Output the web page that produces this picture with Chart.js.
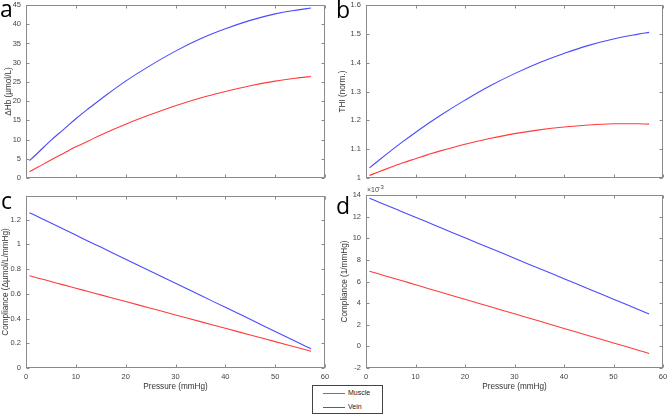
<!DOCTYPE html>
<html>
<head>
<meta charset="utf-8">
<script src="https://cdn.jsdelivr.net/npm/chart.js@4.4.0/dist/chart.umd.min.js"></script>
<style>
  body { margin: 0; background: #fff; }
  #wrap { position: relative; width: 669px; height: 415px; }
  #wrap canvas { position: absolute; left: 0; top: 0; }
  #legend { position: absolute; left: 312px; top: 385px; width: 69px; height: 27px;
            border: 1px solid #444; background: #fff; font: 7px "Liberation Sans", Arial, sans-serif; color: #222; }
  #legend .row { position: absolute; left: 10px; height: 8px; }
  #legend .sw { position: absolute; left: 0; top: 4px; width: 22px; height: 1px; }
  #legend .lb { position: absolute; left: 25px; top: 0; line-height: 8px; white-space: nowrap; }
</style>
</head>
<body>
<div id="wrap">
  <canvas id="pa" width="669" height="415"></canvas>
  <canvas id="pb" width="669" height="415"></canvas>
  <canvas id="pc" width="669" height="415"></canvas>
  <canvas id="pd" width="669" height="415"></canvas>
  <div id="legend">
    <div class="row" style="top:3px"><div class="sw" style="background:#ff3b3b"></div><div class="lb">Muscle</div></div>
    <div class="row" style="top:17px"><div class="sw" style="background:#4a4aff"></div><div class="lb">Vein</div></div>
  </div>
</div>
<script>
// data
var pressure = [0.7, 2.5, 5, 7.5, 10, 12.5, 15, 20, 25, 30, 35, 40, 45, 50, 55, 57.2];
var hbMuscle = [1.6, 2.9, 4.7, 6.4, 8.1, 9.6, 11.2, 14.0, 16.5, 18.8, 20.8, 22.5, 24.0, 25.2, 26.1, 26.4];
var hbVein = [4.5, 6.7, 9.8, 12.6, 15.4, 18.0, 20.5, 25.2, 29.3, 33.0, 36.2, 38.8, 41.0, 42.7, 43.8, 44.2];
var thiMuscle = [1.009, 1.021, 1.037, 1.053, 1.067, 1.081, 1.094, 1.117, 1.137, 1.154, 1.167, 1.177, 1.184, 1.188, 1.188, 1.187];
var thiVein = [1.035, 1.060, 1.094, 1.127, 1.158, 1.188, 1.217, 1.270, 1.319, 1.362, 1.400, 1.432, 1.460, 1.482, 1.499, 1.505];
var compMuscle = [0.745, 0.726, 0.699, 0.672, 0.645, 0.618, 0.591, 0.537, 0.483, 0.429, 0.375, 0.321, 0.267, 0.213, 0.159, 0.135];
var compVein = [1.255, 1.220, 1.171, 1.123, 1.074, 1.025, 0.977, 0.879, 0.782, 0.685, 0.587, 0.490, 0.393, 0.295, 0.198, 0.155];
// panel d values in units of 1e-3 /mmHg
var normMuscle = [6.95, 6.71, 6.37, 6.04, 5.70, 5.36, 5.03, 4.35, 3.68, 3.01, 2.34, 1.66, 0.99, 0.32, -0.35, -0.65];
var normVein = [13.7, 13.36, 12.89, 12.41, 11.94, 11.47, 10.99, 10.04, 9.10, 8.15, 7.20, 6.26, 5.31, 4.36, 3.42, 3.0];

var pressureTicks = [0, 10, 20, 30, 40, 50, 60];
var hbTicks = [0, 5, 10, 15, 20, 25, 30, 35, 40, 45];
var thiTicks = [1, 1.1, 1.2, 1.3, 1.4, 1.5, 1.6];
var compTicks = [0, 0.2, 0.4, 0.6, 0.8, 1, 1.2];
var normTicks = [-2, 0, 2, 4, 6, 8, 10, 12, 14];

var FAM = '"Liberation Sans", Arial, sans-serif';
var RED = '#ff3b3b', BLUE = '#4a4aff';

function pts(ys) {
  return pressure.map(function(x, i) { return {x: x, y: ys[i]}; });
}

var framePlugin = {
  id: 'frame',
  afterDraw: function(chart, args, o) {
    var ctx = chart.ctx, a = chart.chartArea, sx = chart.scales.x, sy = chart.scales.y;
    var L = Math.round(a.left) + 0.5, R = Math.round(a.right) - 0.5;
    var T = Math.round(a.top) + 0.5, B = Math.round(a.bottom) - 0.5;
    ctx.save();
    ctx.strokeStyle = '#8a8a8a';
    ctx.lineWidth = 1;
    ctx.strokeRect(L, T, R - L, B - T);
    ctx.beginPath();
    sx.ticks.forEach(function(t) {
      var x = Math.round(sx.getPixelForValue(t.value)) + 0.5;
      ctx.moveTo(x, B); ctx.lineTo(x, B - 3);
      ctx.moveTo(x, T); ctx.lineTo(x, T + 3);
    });
    sy.ticks.forEach(function(t) {
      var y = Math.round(sy.getPixelForValue(t.value)) + 0.5;
      ctx.moveTo(L, y); ctx.lineTo(L + 3, y);
      ctx.moveTo(R, y); ctx.lineTo(R - 3, y);
    });
    ctx.stroke();
    ctx.fillStyle = '#000';
    ctx.font = '23px "Open Sans", "Liberation Sans", sans-serif';
    ctx.textBaseline = 'alphabetic';
    ctx.fillText(o.letter, o.lx, o.ly);
    if (o.exp) {
      ctx.fillStyle = '#444';
      ctx.font = '7px ' + FAM;
      ctx.fillText('\u00d710', a.left + 1, a.top - 3);
      ctx.font = '6px ' + FAM;
      ctx.fillText('\u22123', a.left + 11, a.top - 6);
    }
    ctx.restore();
  }
};

function makePanel(id, p) {
  var xH = p.showX ? 24 : 4;
  new Chart(document.getElementById(id), {
    type: 'line',
    data: {
      datasets: [
        {label: 'Muscle', data: pts(p.muscle), borderColor: RED, borderWidth: 1.1, pointRadius: 0, tension: 0.4},
        {label: 'Vein', data: pts(p.vein), borderColor: BLUE, borderWidth: 1.1, pointRadius: 0, tension: 0.4}
      ]
    },
    options: {
      responsive: false,
      animation: false,
      events: [],
      layout: {padding: {left: p.left - p.yW, right: 669 - p.right, top: p.top, bottom: 415 - p.bottom - xH}},
      plugins: {
        legend: {display: false},
        tooltip: {enabled: false},
        frame: {letter: p.letter, lx: p.lx, ly: p.ly, exp: p.exp}
      },
      scales: {
        x: {
          type: 'linear', min: 0, max: 60,
          grid: {display: false, drawTicks: false},
          border: {display: false},
          afterBuildTicks: function(s) { s.ticks = pressureTicks.map(function(v) { return {value: v}; }); },
          afterFit: function(s) { s.height = xH; s.paddingLeft = 0; s.paddingRight = 0; },
          ticks: {display: p.showX, padding: 4, autoSkip: false, maxRotation: 0, color: '#444', font: {family: FAM, size: 7.5}},
          title: {display: p.showX, text: 'Pressure (mmHg)', color: '#333', padding: 0, font: {family: FAM, size: 8.2}}
        },
        y: {
          type: 'linear', min: p.yMin, max: p.yMax,
          grid: {display: false, drawTicks: false},
          border: {display: false},
          afterBuildTicks: function(s) { s.ticks = p.yTicks.map(function(v) { return {value: v}; }); },
          afterFit: function(s) { s.width = p.yW; s.paddingTop = 0; s.paddingBottom = 0; },
          ticks: {padding: 5, autoSkip: false, color: '#444', font: {family: FAM, size: 7.5},
                  callback: function(v) { return String(+v.toFixed(3)); }},
          title: {display: true, text: p.yTitle, color: '#333', padding: {top: p.tPad, bottom: 0}, font: {family: FAM, size: 8.2}}
        }
      }
    },
    plugins: [framePlugin]
  });
}

makePanel('pa', {left: 26, right: 325, top: 5, bottom: 178, yW: 26, tPad: 3.5, showX: false,
  yMin: 0, yMax: 45, yTicks: hbTicks, yTitle: '\u0394Hb (\u00b5mol/L)',
  muscle: hbMuscle, vein: hbVein, letter: 'a', lx: 0, ly: 17});
makePanel('pb', {left: 366, right: 663, top: 5, bottom: 178, yW: 36, tPad: 8, showX: false,
  yMin: 1, yMax: 1.6, yTicks: thiTicks, yTitle: 'THI (norm.)',
  muscle: thiMuscle, vein: thiVein, letter: 'b', lx: 336, ly: 18});
makePanel('pc', {left: 26, right: 325, top: 196, bottom: 368, yW: 26, tPad: 1, showX: true,
  yMin: 0, yMax: 1.39, yTicks: compTicks, yTitle: 'Compliance (\u0394\u00b5mol/L/mmHg)',
  muscle: compMuscle, vein: compVein, letter: 'c', lx: 1, ly: 209});
makePanel('pd', {left: 366, right: 663, top: 195, bottom: 368, yW: 36, tPad: 10, showX: true,
  yMin: -2, yMax: 14, yTicks: normTicks, yTitle: 'Compliance (1/mmHg)',
  muscle: normMuscle, vein: normVein, letter: 'd', lx: 336, ly: 214, exp: true});
</script>
</body>
</html>
